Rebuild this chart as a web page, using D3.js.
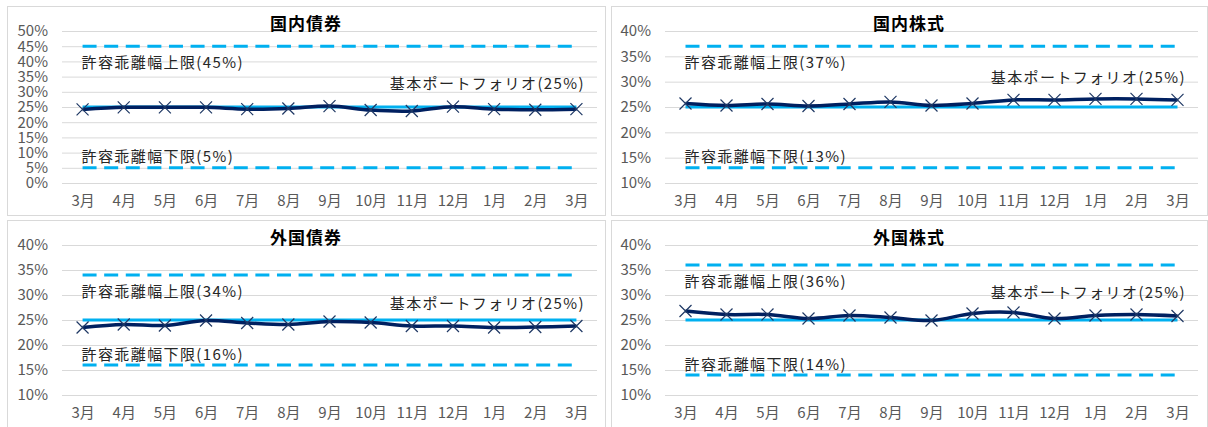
<!DOCTYPE html>
<html>
<head>
<meta charset="utf-8">
<script src="https://cdn.jsdelivr.net/npm/d3@7"></script>
<style>
  body { margin: 0; background: #fff; }
  svg { display: block; }
  .tick text { font-family: "Liberation Sans Narrow", "Noto Sans CJK JP", sans-serif; font-size: 15px; fill: #595959; }
  .note { font-family: "Noto Sans CJK JP", sans-serif; font-size: 15px; fill: #262626; letter-spacing: 1.4px; }
  .title { font-family: "Noto Sans CJK JP", sans-serif; font-size: 17px; font-weight: bold; fill: #000; letter-spacing: 1px; }
</style>
</head>
<body>
<div id="chart"></div>
<script>
// values in %
const months = ["3月", "4月", "5月", "6月", "7月", "8月", "9月", "10月", "11月", "12月", "1月", "2月", "3月"];
const titles = ["国内債券", "国内株式", "外国債券", "外国株式"];
const domesticBonds = [24.2, 24.9, 24.9, 24.9, 24.3, 24.5, 25.3, 24.0, 23.7, 25.1, 24.3, 24.1, 24.3];
const domesticStocks = [25.7, 25.3, 25.6, 25.2, 25.6, 26.0, 25.3, 25.7, 26.4, 26.4, 26.6, 26.6, 26.4];
const foreignBonds = [23.5, 24.1, 23.9, 24.9, 24.4, 24.1, 24.7, 24.5, 23.8, 23.8, 23.5, 23.6, 23.8];
const foreignStocks = [26.8, 26.1, 26.1, 25.3, 25.9, 25.5, 24.9, 26.3, 26.5, 25.3, 25.9, 26.1, 25.8];
const policyWeights = [25, 25, 25, 25];
const upperLimits = [45, 37, 34, 36];
const lowerLimits = [5, 13, 16, 14];
const yDomains = [[0, 50], [10, 40], [10, 40], [10, 40]];

const series = [domesticBonds, domesticStocks, foreignBonds, foreignStocks];

// layout of the four panels
const panels = [
  { box: [7, 6, 598, 209], x0: 62, x1: 597, yTop: 31, yBot: 183, titleY: 22, baseOff: -25 },
  { box: [611, 6, 596, 209], x0: 665, x1: 1198, yTop: 31, yBot: 183, titleY: 22, baseOff: -31 },
  { box: [7, 220, 598, 220], x0: 62, x1: 597, yTop: 245, yBot: 395, titleY: 236, baseOff: -18 },
  { box: [611, 220, 596, 220], x0: 665, x1: 1198, yTop: 245, yBot: 395, titleY: 236, baseOff: -29 }
];

const W = 1208, H = 427;
const svg = d3.select('#chart').append('svg').attr('width', W).attr('height', H);

const lightBlue = '#00B0F0';
const navy = '#002060';

panels.forEach((p, i) => {
  const [bx, by, bw, bh] = p.box;
  const g = svg.append('g');
  g.append('rect')
    .attr('x', bx + 0.5).attr('y', by + 0.5)
    .attr('width', bw).attr('height', bh)
    .attr('fill', '#fff').attr('stroke', '#D9D9D9');

  const x = d3.scalePoint().domain(d3.range(months.length)).range([p.x0, p.x1]).padding(0.5);
  const y = d3.scaleLinear().domain(yDomains[i]).range([p.yBot, p.yTop]);

  // y axis + gridlines
  const yTicks = d3.range(yDomains[i][0], yDomains[i][1] + 0.1, 5);
  const yAxis = g.append('g')
    .attr('transform', `translate(${p.x0},0)`)
    .call(d3.axisLeft(y).tickValues(yTicks).tickSize(-(p.x1 - p.x0)).tickPadding(14).tickFormat(d => d + '%'));
  yAxis.select('.domain').remove();
  yAxis.selectAll('.tick line').attr('stroke', '#D9D9D9');

  // x axis labels
  const xAxis = g.append('g')
    .attr('transform', `translate(0,${p.yBot})`)
    .call(d3.axisBottom(x).tickSize(0).tickPadding(12).tickFormat(d => months[d]));
  xAxis.select('.domain').remove();

  // title
  g.append('text').attr('class', 'title')
    .attr('x', bx + bw / 2).attr('y', p.titleY)
    .attr('text-anchor', 'middle').attr('dominant-baseline', 'central')
    .text(titles[i]);

  const first = x(0), last = x(months.length - 1);

  // limit lines
  [upperLimits[i], lowerLimits[i]].forEach(v => {
    g.append('line')
      .attr('x1', first).attr('x2', last)
      .attr('y1', y(v)).attr('y2', y(v))
      .attr('stroke', lightBlue).attr('stroke-width', 3)
      .attr('stroke-dasharray', '14,7.6');
  });

  // policy line
  g.append('line')
    .attr('x1', first).attr('x2', last)
    .attr('y1', y(policyWeights[i])).attr('y2', y(policyWeights[i]))
    .attr('stroke', lightBlue).attr('stroke-width', 3);

  // data line
  const line = d3.line()
    .x((d, j) => x(j))
    .y(d => y(d))
    .curve(d3.curveCatmullRom.alpha(0.5));
  g.append('path')
    .datum(series[i])
    .attr('d', line)
    .attr('fill', 'none')
    .attr('stroke', navy)
    .attr('stroke-width', 3.5);

  // x markers
  const m = 6;
  const mk = g.append('g').selectAll('path')
    .data(series[i]).enter()
    .append('path')
    .attr('d', (d, j) => {
      const cx = x(j), cy = y(d);
      return `M${cx - m},${cy - m}L${cx + m},${cy + m}M${cx - m},${cy + m}L${cx + m},${cy - m}`;
    })
    .attr('stroke', '#1F3864').attr('stroke-width', 1.2).attr('fill', 'none');

  // annotations
  g.append('text').attr('class', 'note')
    .attr('x', first - 1).attr('y', y(upperLimits[i]) + 15.5)
    .attr('dominant-baseline', 'central')
    .text(`許容乖離幅上限(${upperLimits[i]}%)`);
  g.append('text').attr('class', 'note')
    .attr('x', first - 1).attr('y', y(lowerLimits[i]) - 12)
    .attr('dominant-baseline', 'central')
    .text(`許容乖離幅下限(${lowerLimits[i]}%)`);
  g.append('text').attr('class', 'note')
    .attr('x', p.x1 - 12).attr('y', y(policyWeights[i]) + p.baseOff)
    .attr('text-anchor', 'end').attr('dominant-baseline', 'central')
    .text(`基本ポートフォリオ(${policyWeights[i]}%)`);
});
</script>
</body>
</html>
